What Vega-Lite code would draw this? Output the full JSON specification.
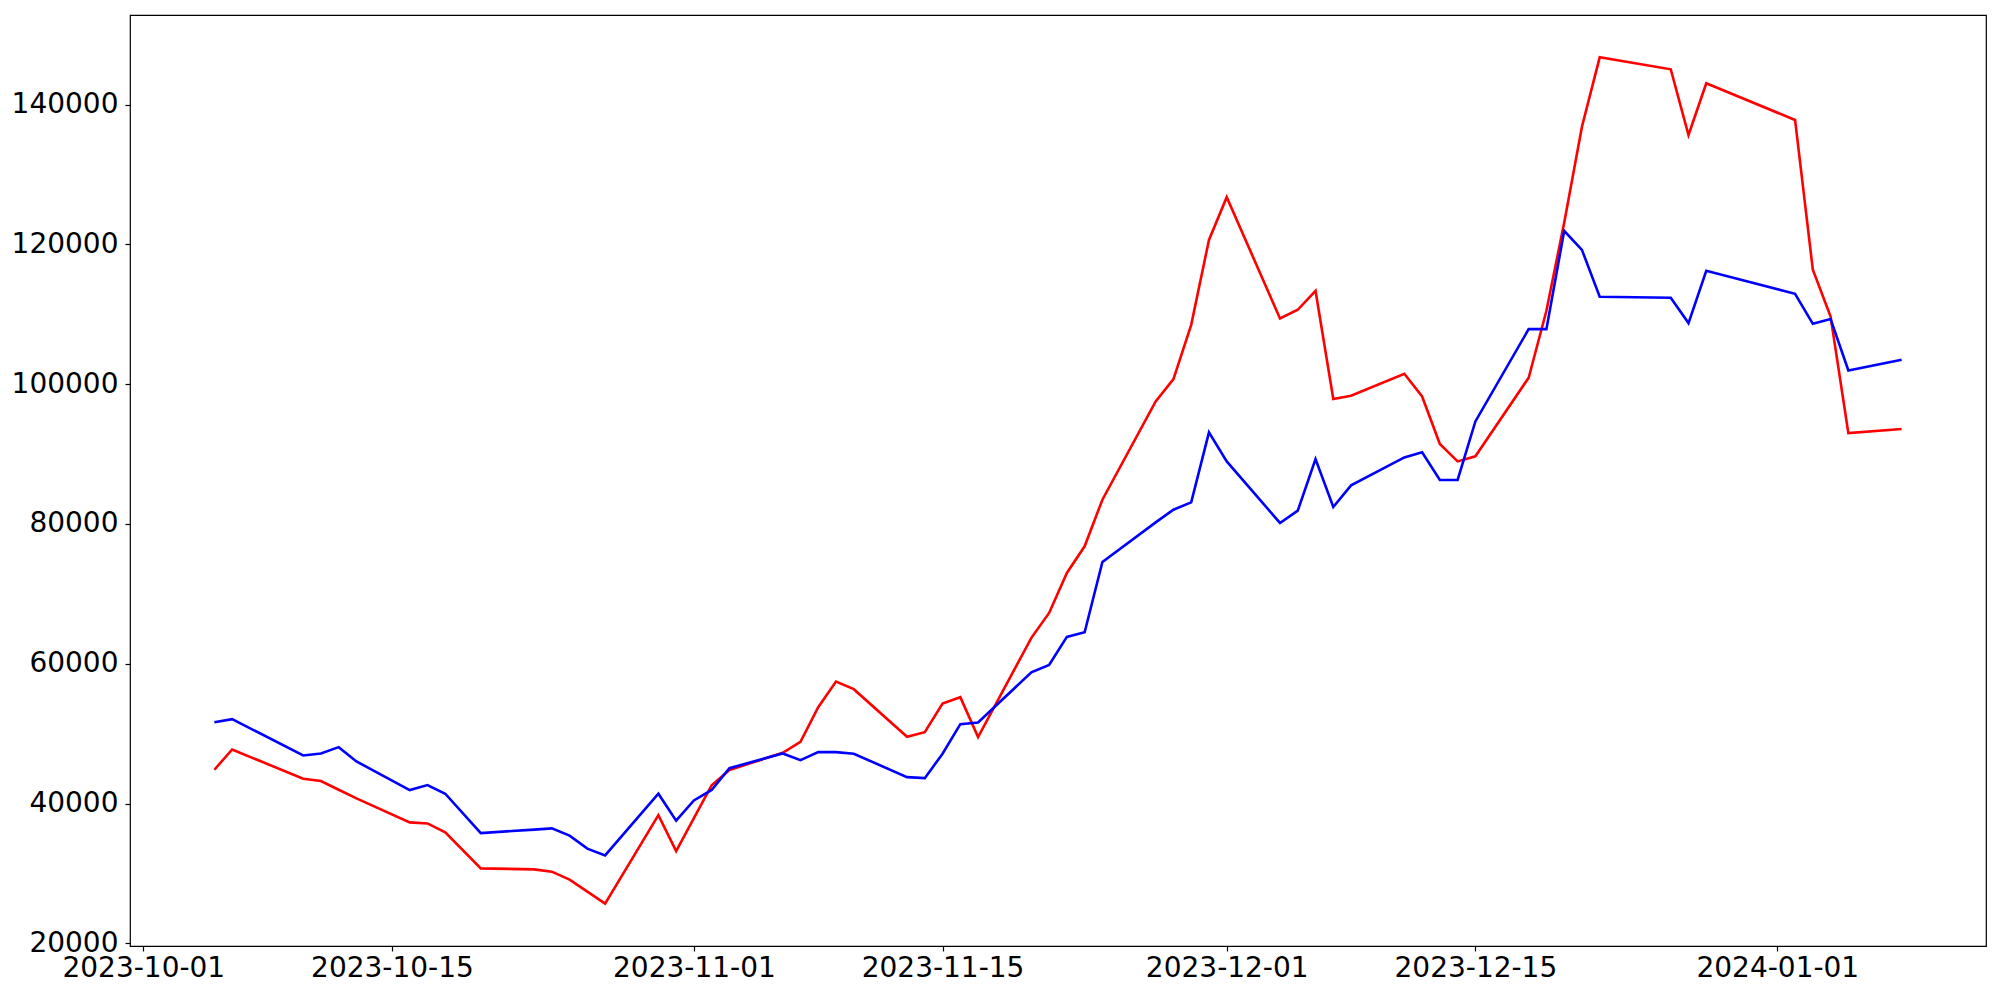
{
  "$schema": "https://vega.github.io/schema/vega-lite/v6.json",
  "width": 1856,
  "height": 931,
  "autosize": {"type": "none"},
  "padding": {"left": 130, "top": 15, "right": 14, "bottom": 54},
  "background": "white",
  "config": {
    "view": {"stroke": "black", "strokeWidth": 1.2},
    "axis": {"grid": false, "domain": false, "labelFont": "DejaVu Sans", "labelFontSize": 28, "labelColor": "black", "tickColor": "black", "tickSize": 5, "tickWidth": 1.2}
  },
  "data": {"values": [
    {"date": "2023-10-05", "series": "A", "value": 44830},
    {"date": "2023-10-06", "series": "A", "value": 47730},
    {"date": "2023-10-10", "series": "A", "value": 43550},
    {"date": "2023-10-11", "series": "A", "value": 43210},
    {"date": "2023-10-12", "series": "A", "value": 41970},
    {"date": "2023-10-13", "series": "A", "value": 40730},
    {"date": "2023-10-16", "series": "A", "value": 37300},
    {"date": "2023-10-17", "series": "A", "value": 37150},
    {"date": "2023-10-18", "series": "A", "value": 35870},
    {"date": "2023-10-20", "series": "A", "value": 30720},
    {"date": "2023-10-23", "series": "A", "value": 30580},
    {"date": "2023-10-24", "series": "A", "value": 30250},
    {"date": "2023-10-25", "series": "A", "value": 29110},
    {"date": "2023-10-26", "series": "A", "value": 27390},
    {"date": "2023-10-27", "series": "A", "value": 25670},
    {"date": "2023-10-30", "series": "A", "value": 38340},
    {"date": "2023-10-31", "series": "A", "value": 33190},
    {"date": "2023-11-01", "series": "A", "value": 37900},
    {"date": "2023-11-02", "series": "A", "value": 42620},
    {"date": "2023-11-03", "series": "A", "value": 44800},
    {"date": "2023-11-06", "series": "A", "value": 47260},
    {"date": "2023-11-07", "series": "A", "value": 48830},
    {"date": "2023-11-08", "series": "A", "value": 53780},
    {"date": "2023-11-09", "series": "A", "value": 57450},
    {"date": "2023-11-10", "series": "A", "value": 56360},
    {"date": "2023-11-13", "series": "A", "value": 49550},
    {"date": "2023-11-14", "series": "A", "value": 50210},
    {"date": "2023-11-15", "series": "A", "value": 54310},
    {"date": "2023-11-16", "series": "A", "value": 55210},
    {"date": "2023-11-17", "series": "A", "value": 49500},
    {"date": "2023-11-20", "series": "A", "value": 63700},
    {"date": "2023-11-21", "series": "A", "value": 67270},
    {"date": "2023-11-22", "series": "A", "value": 72990},
    {"date": "2023-11-23", "series": "A", "value": 76800},
    {"date": "2023-11-24", "series": "A", "value": 83470},
    {"date": "2023-11-27", "series": "A", "value": 97530},
    {"date": "2023-11-28", "series": "A", "value": 100730},
    {"date": "2023-11-29", "series": "A", "value": 108490},
    {"date": "2023-11-30", "series": "A", "value": 120640},
    {"date": "2023-12-01", "series": "A", "value": 126750},
    {"date": "2023-12-04", "series": "A", "value": 109400},
    {"date": "2023-12-05", "series": "A", "value": 110640},
    {"date": "2023-12-06", "series": "A", "value": 113350},
    {"date": "2023-12-07", "series": "A", "value": 97870},
    {"date": "2023-12-08", "series": "A", "value": 98340},
    {"date": "2023-12-11", "series": "A", "value": 101490},
    {"date": "2023-12-12", "series": "A", "value": 98240},
    {"date": "2023-12-13", "series": "A", "value": 91440},
    {"date": "2023-12-14", "series": "A", "value": 88950},
    {"date": "2023-12-15", "series": "A", "value": 89670},
    {"date": "2023-12-18", "series": "A", "value": 100920},
    {"date": "2023-12-19", "series": "A", "value": 110500},
    {"date": "2023-12-20", "series": "A", "value": 123100},
    {"date": "2023-12-21", "series": "A", "value": 136840},
    {"date": "2023-12-22", "series": "A", "value": 146760},
    {"date": "2023-12-26", "series": "A", "value": 145050},
    {"date": "2023-12-27", "series": "A", "value": 135650},
    {"date": "2023-12-28", "series": "A", "value": 143040},
    {"date": "2024-01-02", "series": "A", "value": 137800},
    {"date": "2024-01-03", "series": "A", "value": 116360},
    {"date": "2024-01-04", "series": "A", "value": 109680},
    {"date": "2024-01-05", "series": "A", "value": 93000},
    {"date": "2024-01-08", "series": "A", "value": 93580},
    {"date": "2023-10-05", "series": "B", "value": 51640},
    {"date": "2023-10-06", "series": "B", "value": 52070},
    {"date": "2023-10-10", "series": "B", "value": 46880},
    {"date": "2023-10-11", "series": "B", "value": 47160},
    {"date": "2023-10-12", "series": "B", "value": 48070},
    {"date": "2023-10-13", "series": "B", "value": 46020},
    {"date": "2023-10-16", "series": "B", "value": 41920},
    {"date": "2023-10-17", "series": "B", "value": 42640},
    {"date": "2023-10-18", "series": "B", "value": 41400},
    {"date": "2023-10-20", "series": "B", "value": 35770},
    {"date": "2023-10-23", "series": "B", "value": 36270},
    {"date": "2023-10-24", "series": "B", "value": 36440},
    {"date": "2023-10-25", "series": "B", "value": 35400},
    {"date": "2023-10-26", "series": "B", "value": 33540},
    {"date": "2023-10-27", "series": "B", "value": 32580},
    {"date": "2023-10-30", "series": "B", "value": 41400},
    {"date": "2023-10-31", "series": "B", "value": 37540},
    {"date": "2023-11-01", "series": "B", "value": 40440},
    {"date": "2023-11-02", "series": "B", "value": 41940},
    {"date": "2023-11-03", "series": "B", "value": 45060},
    {"date": "2023-11-06", "series": "B", "value": 47160},
    {"date": "2023-11-07", "series": "B", "value": 46200},
    {"date": "2023-11-08", "series": "B", "value": 47350},
    {"date": "2023-11-09", "series": "B", "value": 47350},
    {"date": "2023-11-10", "series": "B", "value": 47120},
    {"date": "2023-11-13", "series": "B", "value": 43780},
    {"date": "2023-11-14", "series": "B", "value": 43630},
    {"date": "2023-11-15", "series": "B", "value": 47120},
    {"date": "2023-11-16", "series": "B", "value": 51350},
    {"date": "2023-11-17", "series": "B", "value": 51590},
    {"date": "2023-11-20", "series": "B", "value": 58780},
    {"date": "2023-11-21", "series": "B", "value": 59840},
    {"date": "2023-11-22", "series": "B", "value": 63840},
    {"date": "2023-11-23", "series": "B", "value": 64500},
    {"date": "2023-11-24", "series": "B", "value": 74570},
    {"date": "2023-11-27", "series": "B", "value": 80230},
    {"date": "2023-11-28", "series": "B", "value": 82040},
    {"date": "2023-11-29", "series": "B", "value": 83090},
    {"date": "2023-11-30", "series": "B", "value": 93100},
    {"date": "2023-12-01", "series": "B", "value": 88950},
    {"date": "2023-12-04", "series": "B", "value": 80140},
    {"date": "2023-12-05", "series": "B", "value": 81900},
    {"date": "2023-12-06", "series": "B", "value": 89290},
    {"date": "2023-12-07", "series": "B", "value": 82430},
    {"date": "2023-12-08", "series": "B", "value": 85520},
    {"date": "2023-12-11", "series": "B", "value": 89520},
    {"date": "2023-12-12", "series": "B", "value": 90240},
    {"date": "2023-12-13", "series": "B", "value": 86290},
    {"date": "2023-12-14", "series": "B", "value": 86290},
    {"date": "2023-12-15", "series": "B", "value": 94670},
    {"date": "2023-12-18", "series": "B", "value": 107870},
    {"date": "2023-12-19", "series": "B", "value": 107870},
    {"date": "2023-12-20", "series": "B", "value": 121930},
    {"date": "2023-12-21", "series": "B", "value": 119210},
    {"date": "2023-12-22", "series": "B", "value": 112500},
    {"date": "2023-12-26", "series": "B", "value": 112360},
    {"date": "2023-12-27", "series": "B", "value": 108740},
    {"date": "2023-12-28", "series": "B", "value": 116210},
    {"date": "2024-01-02", "series": "B", "value": 112920},
    {"date": "2024-01-03", "series": "B", "value": 108630},
    {"date": "2024-01-04", "series": "B", "value": 109310},
    {"date": "2024-01-05", "series": "B", "value": 101960},
    {"date": "2024-01-08", "series": "B", "value": 103490}
  ]},
  "encoding": {
    "x": {
      "field": "date",
      "type": "temporal",
      "scale": {"type": "utc", "domain": [
        {"year": 2023, "month": 9, "date": 30, "hours": 6, "utc": true},
        {"year": 2024, "month": 1, "date": 12, "hours": 18, "utc": true}
      ]},
      "axis": {
        "title": null,
        "values": [
          {"year": 2023, "month": 10, "date": 1, "utc": true},
          {"year": 2023, "month": 10, "date": 15, "utc": true},
          {"year": 2023, "month": 11, "date": 1, "utc": true},
          {"year": 2023, "month": 11, "date": 15, "utc": true},
          {"year": 2023, "month": 12, "date": 1, "utc": true},
          {"year": 2023, "month": 12, "date": 15, "utc": true},
          {"year": 2024, "month": 1, "date": 1, "utc": true}
        ],
        "labelExpr": "utcFormat(datum.value, '%Y-%m-%d')",
        "labelPadding": 3,
        "labelFlush": false,
        "labelOverlap": false
      }
    },
    "y": {
      "field": "value",
      "type": "quantitative",
      "scale": {"domain": [19615, 152815], "nice": false, "zero": false},
      "axis": {
        "title": null,
        "values": [20000, 40000, 60000, 80000, 100000, 120000, 140000],
        "format": "d",
        "labelPadding": 7,
        "labelOverlap": false
      }
    }
  },
  "layer": [
    {"transform": [{"filter": "datum.series === 'A'"}], "mark": {"type": "line", "color": "#ff0000", "strokeWidth": 2.6}},
    {"transform": [{"filter": "datum.series === 'B'"}], "mark": {"type": "line", "color": "#0000ff", "strokeWidth": 2.6}}
  ]
}
